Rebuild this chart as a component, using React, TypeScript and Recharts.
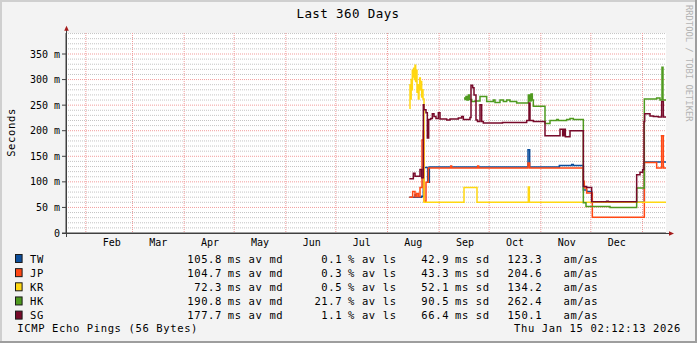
import React from 'react';
import { LineChart, Line, XAxis, YAxis, CartesianGrid } from 'recharts';

const MONO = "'DejaVu Sans Mono', monospace";

// ---- legend data ----
const seriesNames = ['TW', 'JP', 'KR', 'HK', 'SG'];
const seriesColors = ['#0c4e9b', '#ff4814', '#ffd712', '#4f9a1f', '#770a2a'];
const medianMs = ['105.8', '104.7', '72.3', '190.8', '177.7'];
const lossPct = ['0.1', '0.3', '0.5', '21.7', '1.1'];
const sdMs = ['42.9', '43.3', '52.1', '90.5', '66.4'];
const amasVals = ['123.3', '204.6', '134.2', '262.4', '150.1'];

// ---- axis data (x = day of year 2025, range = last 360 days up to Jan 15 2026) ----
const xStart = 19.1;
const xEnd = 379.1;
const monthNames = ['Feb', 'Mar', 'Apr', 'May', 'Jun', 'Jul', 'Aug', 'Sep', 'Oct', 'Nov', 'Dec'];
const monthStarts = [31, 59, 90, 120, 151, 181, 212, 243, 273, 304, 334, 365];
const monthLabelPos = [46.5, 74.5, 105.5, 135.5, 166.5, 196.5, 227.5, 258.5, 288.5, 319.5, 349.5];
const yMax = 391.07;
const yMajor = [0, 50, 100, 150, 200, 250, 300, 350];
const yMinor = [10, 20, 30, 40, 60, 70, 80, 90, 110, 120, 130, 140, 160, 170, 180, 190, 210, 220, 230, 240, 260, 270, 280, 290, 310, 320, 330, 340, 360, 370, 380, 390];

// ---- series: [day, milliseconds] ----
const twPoints: [number, number][] = [
  [225.1, 70], [228.5, 75], [229.3, 70], [232.5, 72], [233.5, 128], [236.1, 99], [237.1, 129],
  [296.3, 163], [297.3, 129], [315.1, 132], [322.5, 134], [323.5, 132], [329.5, 84], [331.5, 81],
  [334.5, 60], [366.1, 139], [379.1, 139],
];
const jpPoints: [number, number][] = [
  [225.1, 70], [227.1, 81], [228.5, 71], [229.5, 77], [230.5, 71], [231.5, 89], [232.7, 182],
  [233.5, 199], [233.9, 62], [235.1, 99], [236.5, 127], [249.9, 131], [250.5, 127], [266.1, 131],
  [266.7, 127], [296.3, 137], [297.3, 127], [329.5, 101], [330.1, 88], [331.5, 78], [334.9, 31],
  [366.1, 138], [373.5, 127], [376.5, 190], [377.5, 127], [379.1, 127],
];
const krPoints: [number, number][] = [
  [225.1, 244], [225.5, 290], [225.8, 262], [226.2, 300], [226.5, 280], [226.9, 318], [227.3, 305],
  [227.7, 322], [228.1, 300], [228.5, 328], [228.9, 296], [229.3, 318], [229.7, 275], [230.1, 290],
  [230.5, 262], [230.9, 285], [231.3, 303], [231.7, 280], [232.1, 296], [232.5, 266], [232.9, 280],
  [233.3, 262], [233.9, 60], [257.9, 89], [265.7, 60], [296.5, 90], [297.1, 60], [379.1, 60],
];
const hkPoints: [number, number][] = [
  [257.9, 264], [258.5, 261], [259.1, 267], [259.7, 260], [260.5, 270], [261.3, 261], [262.5, 257],
  [264.5, 258], [267.5, 267], [271.5, 257], [275.5, 260], [276.5, 255], [279.5, 260], [281.5, 257],
  [283.5, 260], [285.5, 257], [289.5, 254], [296.5, 270], [297.3, 258], [298.1, 272], [298.9, 260],
  [299.5, 248], [306.5, 214], [309.5, 220], [313.5, 222], [314.5, 220], [319.5, 222], [321.5, 224],
  [323.5, 222], [329.5, 59], [331.1, 52], [345.5, 50], [361.5, 88], [366.1, 262], [373.5, 264],
  [375.5, 260], [376.7, 324], [377.3, 260], [379.1, 260],
];
const sgPoints: [number, number][] = [
  [225.1, 106], [227.5, 117], [228.5, 111], [231.5, 124], [232.5, 108], [233.5, 251], [233.9, 241],
  [235.1, 235], [235.9, 186], [236.7, 222], [237.9, 224], [238.9, 233], [239.9, 228], [241.1, 224],
  [242.5, 235], [243.5, 223], [247.5, 221], [249.5, 223], [254.5, 225], [256.5, 228], [257.5, 222],
  [261.5, 226], [262.1, 289], [263.1, 284], [263.9, 270], [265.1, 221], [266.0, 218], [267.5, 251],
  [268.5, 218], [269.5, 215], [281.0, 216], [295.5, 220], [296.9, 254], [297.5, 220], [299.5, 218],
  [306.5, 190], [315.5, 203], [317.1, 190], [317.9, 203], [318.7, 188], [321.5, 200], [329.5, 91],
  [331.5, 89], [334.5, 61], [343.5, 62], [344.5, 61], [361.5, 114], [363.5, 119], [365.1, 124],
  [365.9, 218], [366.3, 233], [369.5, 229], [371.5, 228], [374.5, 227], [376.5, 257], [377.5, 227],
  [379.1, 227],
];

const allSeries = [twPoints, jpPoints, krPoints, hkPoints, sgPoints];
const toRows = (pts: [number, number][]) => pts.map(([t, v]) => ({ t, v }));

const legendFont = { fontFamily: MONO, fontSize: 10.5, letterSpacing: 0.63, fill: '#000' } as const;

export default function App() {
  const rowBase = (i: number) => 262.7 + i * 14.15;
  return (
    <div style={{ position: 'absolute', left: 0, top: 0, width: 697, height: 343, background: '#f3f3f3', overflow: 'hidden' }}>
      <div style={{ position: 'absolute', left: 0, top: 0 }}>
        <LineChart width={697} height={343} margin={{ top: 33, right: 31, bottom: 80, left: 0 }}>
          <CartesianGrid
            fill="#ffffff"
            stroke="#c4c4c4"
            strokeDasharray="1 1"
            vertical={false}
            horizontalValues={yMinor}
          />
          <CartesianGrid
            stroke="#f19c9c"
            strokeDasharray="1 1"
            horizontalValues={yMajor.filter((v) => v > 0)}
            verticalValues={monthStarts}
          />
          <XAxis
            type="number"
            dataKey="t"
            domain={[xStart, xEnd]}
            allowDataOverflow
            ticks={monthLabelPos}
            interval={0}
            tickFormatter={(v: number) => monthNames[monthLabelPos.indexOf(v)] ?? ''}
            tickLine={false}
            tickSize={4}
            tickMargin={2}
            height={30}
            axisLine={{ stroke: '#404040', strokeWidth: 1 }}
            tick={{ fontSize: 10, fontFamily: MONO, fill: '#000' }}
          />
          <YAxis
            type="number"
            domain={[0, yMax]}
            allowDataOverflow
            ticks={yMajor}
            interval={0}
            width={66}
            tickSize={4}
            tickMargin={2}
            tickFormatter={(v: number) => (v === 0 ? '0' : `${v} m`)}
            axisLine={{ stroke: '#404040', strokeWidth: 1 }}
            tickLine={{ stroke: '#404040' }}
            tick={{ fontSize: 10, fontFamily: MONO, fill: '#000' }}
          />
          {allSeries.map((pts, i) => (
            <Line
              key={seriesNames[i]}
              data={toRows(pts)}
              dataKey="v"
              type="stepAfter"
              stroke={seriesColors[i]}
              strokeWidth={1.5}
              dot={false}
              activeDot={false}
              isAnimationActive={false}
            />
          ))}
        </LineChart>
      </div>
      <svg width={697} height={343} style={{ position: 'absolute', left: 0, top: 0, pointerEvents: 'none' }}>
        {/* frame */}
        <rect x={0} y={0} width={697} height={2} fill="#cfcfcf" />
        <rect x={0} y={0} width={2} height={343} fill="#cfcfcf" />
        <rect x={0} y={341} width={697} height={2} fill="#9e9e9e" />
        <rect x={695} y={0} width={2} height={343} fill="#9e9e9e" />
        {/* axis extensions and arrows */}
        <line x1={62} y1={233.5} x2={669} y2={233.5} stroke="#404040" strokeWidth={1} />
        <line x1={66.5} y1={237} x2={66.5} y2={29} stroke="#404040" strokeWidth={1} />
        <polygon points="64.2,30.8 66.5,25.8 68.8,30.8" fill="#a51c1c" />
        <polygon points="669,231.2 674,233.5 669,235.8" fill="#a51c1c" />
        {/* title */}
        <text x={348} y={18.3} textAnchor="middle" fontFamily={MONO} fontSize={12.5} letterSpacing={0.4} fill="#000">
          Last 360 Days
        </text>
        {/* y label */}
        <text x={15} y={132.5} textAnchor="middle" transform="rotate(-90 15 132.5)" {...legendFont}>
          Seconds
        </text>
        {/* watermark */}
        <text x={686} y={5} transform="rotate(90 686 5)" fontFamily={MONO} fontSize={8.8} fill="#b4b4b4">
          RRDTOOL / TOBI OETIKER
        </text>
        {/* legend */}
        {seriesNames.map((name, i) => {
          const b = rowBase(i);
          return (
            <g key={name}>
              <rect x={15.5} y={b - 8.2} width={6.6} height={8} fill={seriesColors[i]} stroke="#1a1a1a" strokeWidth={1} />
              <text x={30} y={b} {...legendFont}>{name}</text>
              <text x={222} y={b} textAnchor="end" {...legendFont}>{medianMs[i]}</text>
              <text x={227.7} y={b} {...legendFont}>ms av md</text>
              <text x={342.2} y={b} textAnchor="end" {...legendFont}>{lossPct[i]}</text>
              <text x={348} y={b} {...legendFont}>% av ls</text>
              <text x={449.1} y={b} textAnchor="end" {...legendFont}>{sdMs[i]}</text>
              <text x={455} y={b} {...legendFont}>ms sd</text>
              <text x={507.5} y={b} {...legendFont}>{amasVals[i]}</text>
              <text x={563.5} y={b} {...legendFont}>am/as</text>
            </g>
          );
        })}
        <text x={17.3} y={332} {...legendFont}>ICMP Echo Pings (56 Bytes)</text>
        <text x={514} y={332} {...legendFont}>Thu Jan 15 02:12:13 2026</text>
      </svg>
    </div>
  );
}
